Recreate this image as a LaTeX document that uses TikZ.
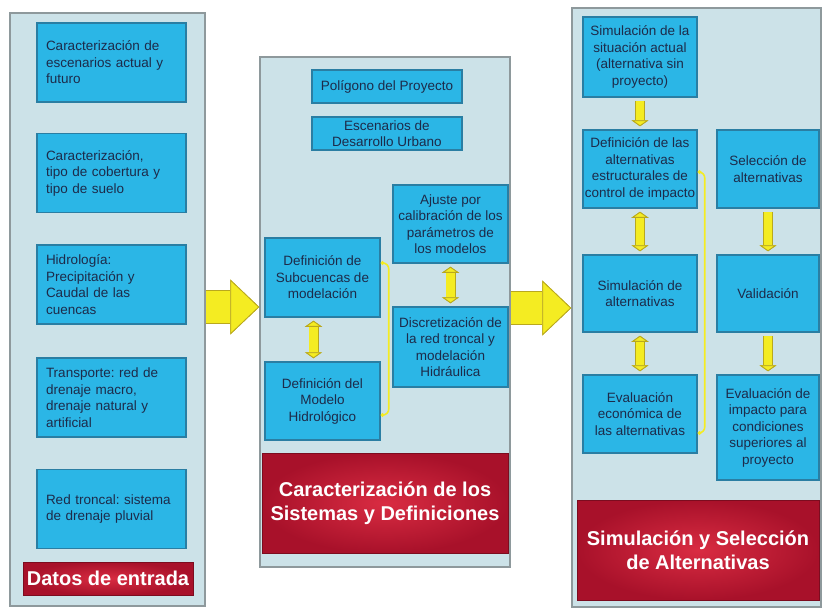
\documentclass[tikz,border=0pt]{standalone}
\usepackage{fontspec}
\setmainfont{Liberation Sans}
\frenchspacing
\usetikzlibrary{arrows.meta}
\definecolor{panelfill}{HTML}{CCE2E8}
\definecolor{paneledge}{HTML}{8E999C}
\definecolor{boxfill}{HTML}{2BB6E6}
\definecolor{boxedge}{HTML}{2A7EA3}
\definecolor{boxtext}{HTML}{1D2B4A}
\definecolor{titlered}{HTML}{A8112A}
\definecolor{titlelight}{HTML}{D92C42}
\definecolor{titleedge}{HTML}{7C0C1F}
\definecolor{arrowfill}{HTML}{F4EC22}
\definecolor{arrowedge}{HTML}{B9A81E}
\tikzset{ytip/.tip={Triangle[width=17pt,length=6pt,line width=0.8pt,
   color=arrowedge,fill=arrowfill]}}

\begin{document}
\begin{tikzpicture}[x=1pt,y=-1pt,
 wh/.style 2 args={minimum width=#1pt,minimum height=#2pt},
 panel/.style={draw=paneledge,fill=panelfill,line width=1.5pt,inner sep=0pt},
 box/.style={draw=boxedge,fill=boxfill,line width=1.5pt,text=boxtext,
   font=\fontsize{13.5}{16.5}\selectfont,align=center,inner sep=1pt},
 leftbox/.style={wh={149}{79},text width=131pt,align=left},
 title/.style={draw=titleedge,line width=1pt,inner color=titlelight,
   outer color=titlered,text=white,align=center,inner sep=1pt,
   font=\fontsize{20}{24}\selectfont\bfseries},
 link/.style={arrowfill,line width=8.5pt,shorten >=3pt,shorten <=3pt,
   preaction={draw=arrowedge,line width=10pt}},
 bigarrow/.style={arrowfill,line width=32pt,
   -{Triangle[width=55pt,length=29pt,line width=0.8pt,color=arrowedge,fill=arrowfill]},
   preaction={draw=arrowedge,line width=33.5pt}},
 bracket/.style={arrowfill,line width=1.6pt,rounded corners=6pt,
   {Circle[length=3.5pt]}-{Circle[length=3.5pt]}}]

\useasboundingbox (0,0) rectangle (823,613);

% the three stages
\node[panel,wh={195}{593}] (datos) at (107.5,309.5) {};
\node[panel,wh={250}{510}] (caract) at (385,312) {};
\node[panel,wh={249}{599}] (simul) at (696.5,307.5) {};

% stage 1: input data
\foreach \name/\ypos/\txt in {
  escen/62.5/{Caracterización de\\escenarios actual y\\futuro},
  cober/173/{Caracterización,\\tipo de cobertura y\\tipo de suelo},
  hidro/284.5/{Hidrología:\\Precipitación y\\Caudal de las\\cuencas},
  trans/397.5/{Transporte: red de\\drenaje macro,\\drenaje natural y\\artificial},
  red/509/{Red troncal: sistema\\de drenaje pluvial}}{
  \node[box,leftbox] (\name) at (111.5,\ypos) {\txt};
}
\node[title,wh={170}{33}] (datoslbl) at (108,578.5) {Datos de entrada};

% stage 2: characterisation
\node[box,wh={150}{33}] (polig) at (387,86.5) {Polígono del Proyecto};
\node[box,wh={150}{33}] (desarr) at (387,133.5) {Escenarios de\\Desarrollo Urbano};
\node[box,wh={115}{78}] (ajuste) at (450.5,224) {Ajuste por\\calibración de los\\parámetros de\\los modelos};
\node[box,wh={115}{79}] (subc) at (322.5,277.5) {Definición de\\Subcuencas de\\modelación};
\node[box,wh={115}{80}] (discret) at (450.5,347) {Discretización de\\la red troncal y\\modelación\\Hidráulica};
\node[box,wh={115}{78}] (modelo) at (322.5,401) {Definición del\\Modelo\\Hidrológico};
\node[title,wh={246}{100}] (caractlbl) at (385,503) {Caracterización de los\\Sistemas y Definiciones};

\draw[link,ytip-ytip] ([xshift=-9pt]subc.south) -- ([xshift=-9pt]modelo.north);
\draw[link,ytip-ytip] (ajuste) -- (discret);
\draw[bracket] ([yshift=14.5pt]subc.east) -- ++(8,0) |- ([yshift=-14pt]modelo.east);

% stage 3: simulation and selection
\node[box,wh={114}{80}] (simact) at (640,57) {Simulación de la\\situación actual\\(alternativa sin\\proyecto)};
\node[box,wh={114}{78}] (defalt) at (640,169) {Definición de las\\alternativas\\estructurales de\\control de impacto};
\node[box,wh={114}{77}] (simalt) at (640,293.5) {Simulación de\\alternativas};
\node[box,wh={114}{78}] (evaleco) at (640,414) {Evaluación\\económica de\\las alternativas};
\node[box,wh={102}{78}] (selec) at (768,169) {Selección de\\alternativas};
\node[box,wh={102}{77}] (valid) at (768,293.5) {Validación};
\node[box,wh={102}{105}] (evalimp) at (768,427.5) {Evaluación de\\impacto para\\condiciones\\superiores al\\proyecto};
\node[title,wh={242}{100}] (simullbl) at (698,550) {Simulación y Selección\\de Alternativas};

\draw[link,-ytip] (simact) -- (defalt);
\draw[link,ytip-ytip] (defalt) -- (simalt);
\draw[link,ytip-ytip] (simalt) -- (evaleco);
\draw[link,-ytip] (selec) -- (valid);
\draw[link,-ytip] (valid) -- (evalimp);
\draw[bracket] ([yshift=-3pt]defalt.east) -- ++(7,0) |- ([yshift=-19pt]evaleco.east);

% flow between stages
\coordinate (arrA) at ([yshift=2.5pt]datos.east);
\coordinate (arrB) at ([yshift=4pt]caract.east);
\draw[bigarrow] (arrA) -- (arrA -| caract.west);
\draw[bigarrow] (arrB) -- (arrB -| simul.west);
\end{tikzpicture}
\end{document}
